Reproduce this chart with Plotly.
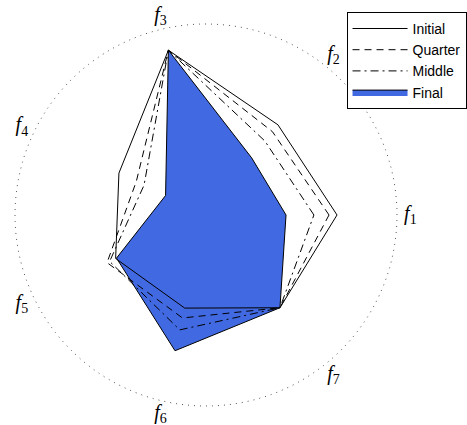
import plotly.graph_objects as go

# Objective labels and normalised objective values at four stages
objectives = ["f1", "f2", "f3", "f4", "f5", "f6", "f7"]
axis_labels = ["<i>f</i><sub>%d</sub>" % (i + 1) for i in range(len(objectives))]

initial = [0.686, 0.604, 0.885, 0.506, 0.525, 0.500, 0.621]
quarter = [0.644, 0.558, 0.885, 0.405, 0.575, 0.553, 0.621]
middle = [0.565, 0.495, 0.885, 0.360, 0.560, 0.617, 0.621]
final = [0.419, 0.383, 0.885, 0.235, 0.520, 0.729, 0.621]

n = len(objectives)
angles = [i * 360.0 / n for i in range(n)]

# outer dotted reference ring at r = 1, labels just outside it
ring_theta = list(range(0, 361, 2))
ring_r = [1.0] * len(ring_theta)
label_r = [1.07] * n
r_max = 1.075


def closed(values):
    return list(values) + [values[0]]


theta = closed(angles)

fig = go.Figure()

fig.add_trace(go.Scatterpolar(
    r=ring_r, theta=ring_theta, mode="lines", showlegend=False, hoverinfo="skip",
    line=dict(color="#555555", width=1, dash="1px,5px"),
))

# filled final stage underneath the outline traces
fig.add_trace(go.Scatterpolar(
    r=closed(final), theta=theta, name="Final", mode="lines",
    fill="toself", fillcolor="#4169E1",
    line=dict(color="black", width=1), legendrank=4,
))
fig.add_trace(go.Scatterpolar(
    r=closed(initial), theta=theta, name="Initial", mode="lines",
    line=dict(color="black", width=1), legendrank=1,
))
fig.add_trace(go.Scatterpolar(
    r=closed(quarter), theta=theta, name="Quarter", mode="lines",
    line=dict(color="black", width=1, dash="7px,5px"), legendrank=2,
))
fig.add_trace(go.Scatterpolar(
    r=closed(middle), theta=theta, name="Middle", mode="lines",
    line=dict(color="black", width=1, dash="8px,4px,2px,4px"), legendrank=3,
))

# objective labels
fig.add_trace(go.Scatterpolar(
    r=label_r, theta=angles, mode="text", text=axis_labels,
    textposition="middle center", cliponaxis=False,
    showlegend=False, hoverinfo="skip",
    textfont=dict(family="Liberation Serif, DejaVu Serif, serif", size=20, color="black"),
))

# polar disc: r = 1 spans 191 px around (206, 215) from the top-left
radius_px = 191 * r_max
cx, cy_from_bottom = 206, 425 - 215

fig.update_layout(
    width=467, height=425,
    margin=dict(l=0, r=0, t=0, b=0),
    paper_bgcolor="white",
    showlegend=True,
    legend=dict(
        x=0.999, y=0.972, xanchor="right", yanchor="top",
        bordercolor="black", borderwidth=1, bgcolor="white",
        font=dict(family="Liberation Sans, Arial, sans-serif", size=14, color="black"),
        tracegroupgap=0, itemwidth=55,
    ),
    polar=dict(
        domain=dict(
            x=[(cx - radius_px) / 467, (cx + radius_px) / 467],
            y=[(cy_from_bottom - radius_px) / 425, (cy_from_bottom + radius_px) / 425],
        ),
        bgcolor="rgba(0,0,0,0)",
        radialaxis=dict(range=[0, r_max], visible=False),
        angularaxis=dict(
            rotation=0, direction="counterclockwise",
            tickvals=angles, showticklabels=False, ticks="",
            showline=False, showgrid=False,
        ),
    ),
)

fig.write_html("out.html")
